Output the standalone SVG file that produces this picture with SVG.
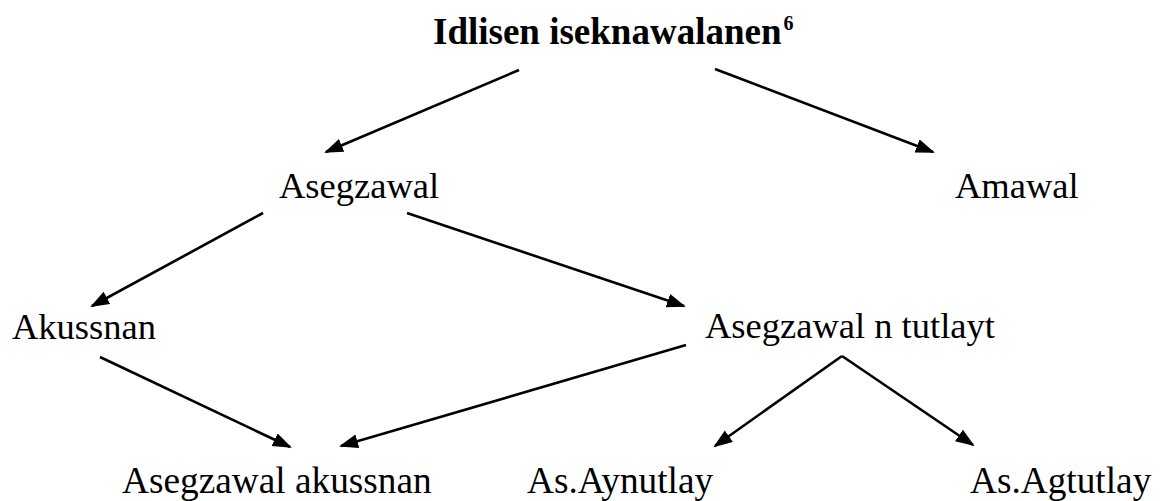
<svg xmlns="http://www.w3.org/2000/svg" width="1160" height="501" viewBox="0 0 1160 501">
<style>
.t{font-family:"Liberation Serif","Times New Roman",serif;font-size:36.5px;fill:#000}
.b{font-weight:bold;font-size:37px}
.bot{font-size:37.3px}
.c{stroke:#000;stroke-width:2.6;fill:none;marker-end:url(#ah)}
</style>
<defs>
<marker id="ah" markerUnits="userSpaceOnUse" markerWidth="20" markerHeight="16" refX="17" refY="7" orient="auto">
<path d="M0,0 L19,7 L0,14 z" fill="#000"/>
</marker>
</defs>
<rect width="1160" height="501" fill="#fff"/>
<g id="connectors">
<line class="c" x1="519" y1="70" x2="326" y2="152"/>
<line class="c" x1="715" y1="69" x2="933" y2="152"/>
<line class="c" x1="263" y1="213" x2="92" y2="306"/>
<line class="c" x1="407" y1="213" x2="684" y2="306"/>
<line class="c" x1="100" y1="357" x2="290" y2="447"/>
<line class="c" x1="686" y1="345" x2="341" y2="446"/>
<line class="c" x1="842" y1="356" x2="715" y2="446"/>
<line class="c" x1="842" y1="356" x2="973" y2="445"/>
</g>
<g id="title"><text class="t b" x="433" y="44">Idlisen iseknawalanen<tspan font-size="20" dx="2" dy="-14">6</tspan></text></g>
<g id="asegzawal"><text class="t" x="279" y="198">Asegzawal</text></g>
<g id="amawal"><text class="t" x="955" y="198">Amawal</text></g>
<g id="akussnan"><text class="t" x="12" y="339">Akussnan</text></g>
<g id="asegzawal-n-tutlayt"><text class="t" x="705" y="338">Asegzawal n tutlayt</text></g>
<g id="asegzawal-akussnan"><text class="t bot" x="122" y="493">Asegzawal akussnan</text></g>
<g id="as-aynutlay"><text class="t bot" x="527" y="493">As.Aynutlay</text></g>
<g id="as-agtutlay"><text class="t bot" x="970" y="493">As.Agtutlay</text></g>
</svg>
